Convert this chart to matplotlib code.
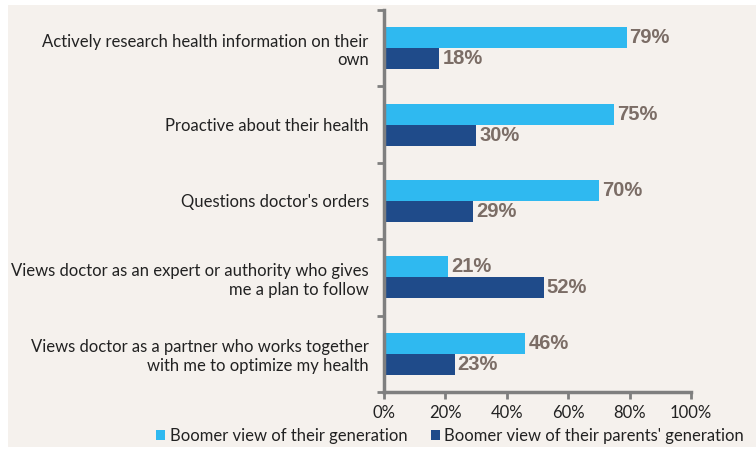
import matplotlib.pyplot as plt
from matplotlib.patches import Rectangle
from matplotlib.ticker import FixedLocator, PercentFormatter

categories = [
    "Actively research health information on their\nown",
    "Proactive about their health",
    "Questions doctor's orders",
    "Views doctor as an expert or authority who gives\nme a plan to follow",
    "Views doctor as a partner who works together\nwith me to optimize my health",
]
own_generation = [79, 75, 70, 21, 46]
parents_generation = [18, 30, 29, 52, 23]
series_names = ["Boomer view of their generation",
                "Boomer view of their parents' generation"]
x_ticks = [0, 20, 40, 60, 80, 100]

LIGHT = "#2fb9f0"
DARK = "#1f4b8a"
BG = "#f5f1ed"
SPINE = "#7f7f7f"
LABEL = "#7b6d66"
TEXT = "#222222"
FONT = "Lato"
FS = 12.0

fig = plt.figure(figsize=(7.56, 4.51), dpi=100)
fig.patch.set_facecolor("white")
fig.patches.append(Rectangle((8 / 756, 4 / 451), 1 - 8 / 756, 1 - 9 / 451,
                             transform=fig.transFigure, facecolor=BG,
                             edgecolor="none", zorder=-1))

ax = fig.add_axes([384 / 756, 1 - 392 / 451, 307 / 756, 382 / 451])
ax.set_facecolor("none")

h = 0.275
ypos = list(range(len(categories)))
ax.barh([y - h / 2 for y in ypos], own_generation, height=h, color=LIGHT,
        label=series_names[0])
ax.barh([y + h / 2 for y in ypos], parents_generation, height=h, color=DARK,
        label=series_names[1])

for y, v in zip(ypos, own_generation):
    ax.text(v + 1.0, y - h / 2, f"{v}%", va="center", ha="left",
            fontsize=14.5, fontweight="bold", color=LABEL,
            family="Liberation Sans")
for y, v in zip(ypos, parents_generation):
    ax.text(v + 1.0, y + h / 2, f"{v}%", va="center", ha="left",
            fontsize=14.5, fontweight="bold", color=LABEL,
            family="Liberation Sans")

ax.set_xlim(0, 100)
ax.set_ylim(len(categories) - 0.5, -0.5)
ax.xaxis.set_major_locator(FixedLocator(x_ticks))
ax.xaxis.set_major_formatter(PercentFormatter(decimals=0))

ax.yaxis.set_major_locator(FixedLocator([y - 0.5 for y in range(len(categories) + 1)]))
ax.yaxis.set_major_formatter(plt.NullFormatter())
ax.yaxis.set_minor_locator(FixedLocator(ypos))
ax.set_yticklabels(categories, minor=True)
ax.tick_params(axis="y", which="minor", length=0, pad=11, labelsize=FS,
               labelcolor=TEXT)
ax.tick_params(axis="y", which="major", length=5, width=2, color=SPINE)
ax.tick_params(axis="x", length=5, width=2, color=SPINE, labelsize=FS,
               labelcolor=TEXT, pad=4)
for lbl in ax.get_yticklabels(minor=True) + ax.get_xticklabels():
    lbl.set_family(FONT)
    lbl.set_multialignment("right")

for side in ("top", "right"):
    ax.spines[side].set_visible(False)
for side in ("left", "bottom"):
    ax.spines[side].set_color(SPINE)
    ax.spines[side].set_linewidth(2.5)

leg = fig.legend(loc="center", bbox_to_anchor=(450 / 756, 1 - 436 / 451),
                 ncol=2, frameon=False, handlelength=0.55, handleheight=0.55,
                 handletextpad=0.25, columnspacing=1.4,
                 prop={"family": FONT, "size": FS})
for t in leg.get_texts():
    t.set_color(TEXT)

fig.savefig("out.png", dpi=100, facecolor=fig.get_facecolor())
